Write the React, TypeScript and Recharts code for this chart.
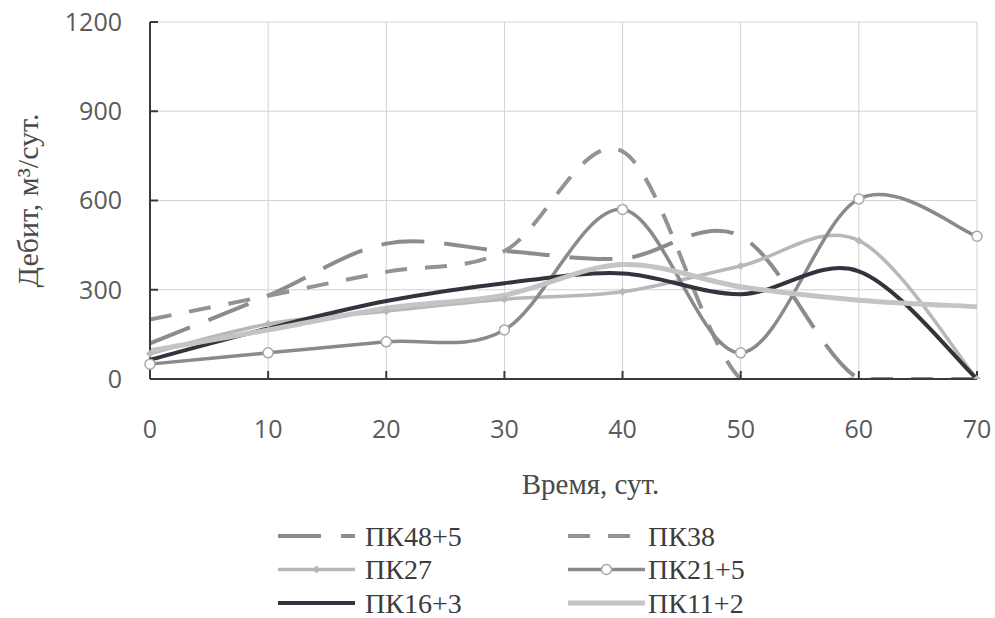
import React from "react";
import {
  LineChart,
  Line,
  XAxis,
  YAxis,
  CartesianGrid,
  Legend,
  Label,
} from "recharts";

// time, days
const days = [0, 10, 20, 30, 40, 50, 60, 70];

// flow rate, m3/day
const pk48_5 = [120, 280, 455, 430, 405, 480, 0, 0];
const pk38 = [200, 280, 360, 430, 765, 0, 0, 0];
const pk27 = [85, 185, 228, 268, 293, 380, 465, 0];
const pk21_5 = [50, 88, 125, 165, 570, 88, 605, 480];
const pk16_3 = [65, 170, 262, 322, 355, 285, 362, 0];
const pk11_2 = [95, 165, 238, 282, 385, 310, 265, 243];

const xTicks = [0, 10, 20, 30, 40, 50, 60, 70];
const yTicks = [0, 300, 600, 900, 1200];

const data = days.map((t, i) => ({
  t,
  pk48_5: pk48_5[i],
  pk38: pk38[i],
  pk27: pk27[i],
  pk21_5: pk21_5[i],
  pk16_3: pk16_3[i],
  pk11_2: pk11_2[i],
}));

type Series = {
  key: string;
  name: string;
  color: string;
  width: number;
  dash?: string;
  dot?: "diamond" | "circle";
};

const series: Series[] = [
  { key: "pk48_5", name: "ПК48+5", color: "#8c8c8c", width: 4, dash: "43 20" },
  { key: "pk38", name: "ПК38", color: "#939393", width: 4, dash: "22 18" },
  { key: "pk27", name: "ПК27", color: "#b8b8b8", width: 3.5, dot: "diamond" },
  { key: "pk21_5", name: "ПК21+5", color: "#8a8a8a", width: 3.5, dot: "circle" },
  { key: "pk16_3", name: "ПК16+3", color: "#33333d", width: 4 },
  { key: "pk11_2", name: "ПК11+2", color: "#c4c4c4", width: 5 },
];

// Excel-like smoothed line (Catmull-Rom through the points)
const excelSmooth = (context: any) => {
  let pts: number[][] = [];
  return {
    areaStart() {},
    areaEnd() {},
    lineStart() {
      pts = [];
    },
    point(x: number, y: number) {
      pts.push([+x, +y]);
    },
    lineEnd() {
      const n = pts.length;
      if (!n) return;
      context.moveTo(pts[0][0], pts[0][1]);
      for (let i = 0; i < n - 1; i++) {
        const p0 = pts[Math.max(i - 1, 0)];
        const p1 = pts[i];
        const p2 = pts[i + 1];
        const p3 = pts[Math.min(i + 2, n - 1)];
        context.bezierCurveTo(
          p1[0] + (p2[0] - p0[0]) / 6,
          p1[1] + (p2[1] - p0[1]) / 6,
          p2[0] - (p3[0] - p1[0]) / 6,
          p2[1] - (p3[1] - p1[1]) / 6,
          p2[0],
          p2[1]
        );
      }
    },
  };
};

const tickFont = {
  fontFamily: "'Open Sans', sans-serif",
  fontSize: 25,
  fill: "#5a5a5a",
};

const serif = "'Liberation Serif', 'DejaVu Serif', serif";

function Marker({ kind, cx, cy, color }: any) {
  if (kind === "circle") {
    return <circle cx={cx} cy={cy} r={5} fill="#fff" stroke="#a8a8a8" strokeWidth={1.5} />;
  }
  return (
    <path
      d={`M${cx},${cy - 4}L${cx + 4},${cy}L${cx},${cy + 4}L${cx - 4},${cy}Z`}
      fill={color}
    />
  );
}

// two-column legend, drawn as svg so it uses the same serif as the axis titles
function LegendBox() {
  return (
    <svg width={500} height={100} style={{ display: "block" }}>
      {series.map((s, i) => {
        const col = i % 2;
        const row = Math.floor(i / 2);
        const x = col * 290;
        const y = 17 + row * 33.5;
        return (
          <g key={s.key}>
            <line
              x1={x}
              x2={x + 77}
              y1={y}
              y2={y}
              stroke={s.color}
              strokeWidth={s.width}
              strokeDasharray={s.dash}
            />
            {s.dot && <Marker kind={s.dot} cx={x + 38.5} cy={y} color={s.color} />}
            <text
              x={x + (col === 0 ? 87 : 80)}
              y={y}
              dy="0.35em"
              style={{ fontFamily: serif, fontSize: 28, fill: "#3c3c3c" }}
            >
              {s.name}
            </text>
          </g>
        );
      })}
    </svg>
  );
}

export default function App() {
  return (
    <div style={{ position: "absolute", left: 0, top: 0, width: 995, height: 618, overflow: "hidden" }}>
      <LineChart
        width={995}
        height={618}
        data={data}
        margin={{ top: 22, right: 18, left: 0, bottom: 179 }}
        style={{ overflow: "visible" }}
      >
        <CartesianGrid stroke="#d2d2d2" strokeWidth={1} />
        <XAxis
          dataKey="t"
          type="number"
          domain={[0, 70]}
          ticks={xTicks}
          height={60}
          stroke="#3a3a3a"
          strokeWidth={2}
          tickSize={-8}
          tickMargin={49}
          tick={tickFont}
          tickLine={{ stroke: "#3a3a3a", strokeWidth: 2 }}
        >
          <Label
            value="Время, сут."
            position="bottom"
            offset={34}
            dx={27}
            style={{ fontFamily: serif, fontSize: 29, fill: "#4a4a4a" }}
          />
        </XAxis>
        <YAxis
          type="number"
          domain={[0, 1200]}
          ticks={yTicks}
          width={150}
          allowDataOverflow
          stroke="#3a3a3a"
          strokeWidth={2}
          tickSize={-8}
          tickMargin={36}
          tick={tickFont}
          tickLine={{ stroke: "#3a3a3a", strokeWidth: 2 }}
        >
          <Label
            value="Дебит, м³/сут."
            angle={-90}
            position="insideLeft"
            offset={27}
            style={{ fontFamily: serif, fontSize: 30, fill: "#4a4a4a", textAnchor: "middle" }}
          />
        </YAxis>
        {series.map((s) => (
          <Line
            key={s.key}
            dataKey={s.key}
            name={s.name}
            type={excelSmooth as any}
            stroke={s.color}
            strokeWidth={s.width}
            strokeDasharray={s.dash}
            strokeLinecap="butt"
            dot={
              s.dot
                ? (p: any) => (
                    <Marker key={`${s.key}-${p.index}`} kind={s.dot} cx={p.cx} cy={p.cy} color={s.color} />
                  )
                : false
            }
            activeDot={false}
            isAnimationActive={false}
          />
        ))}
        <Legend
          layout="horizontal"
          verticalAlign="middle"
          align="center"
          wrapperStyle={{ left: 278, top: 519, width: 500, height: 99, overflow: "hidden" }}
          content={() => <LegendBox />}
        />
      </LineChart>
    </div>
  );
}
